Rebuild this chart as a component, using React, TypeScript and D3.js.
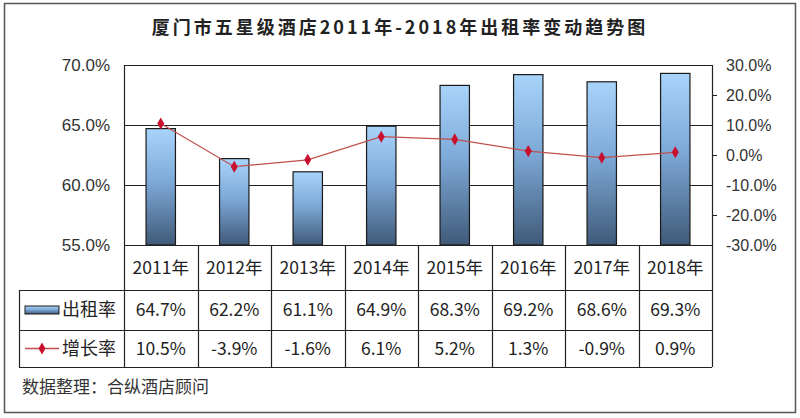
import { useEffect, useRef } from 'react';
import * as d3 from 'd3';

const years = ['2011年', '2012年', '2013年', '2014年', '2015年', '2016年', '2017年', '2018年'];
const occupancy = [64.7, 62.2, 61.1, 64.9, 68.3, 69.2, 68.6, 69.3];
const growth = [10.5, -3.9, -1.6, 6.1, 5.2, 1.3, -0.9, 0.9];
const leftTicks = [55, 60, 65, 70];
const rightTicks = [-30, -20, -10, 0, 10, 20, 30];
const rightMarks = [-20, 0, 20];

const TITLE = '厦门市五星级酒店2011年-2018年出租率变动趋势图';
const SOURCE = '数据整理：合纵酒店顾问';
const SERIES_BAR = '出租率';
const SERIES_LINE = '增长率';

const WIDTH = 800;
const HEIGHT = 418;

export default function App() {
  const svgRef = useRef<SVGSVGElement>(null);

  useEffect(() => {
    if (!svgRef.current) return;
    const svg = d3.select(svgRef.current);
    svg.selectAll('*').remove();

    const left = 124;
    const right = 712;
    const top = 65;
    const bottom = 245;
    const rowHead = 290;
    const row1 = 330;
    const row2 = 367;
    const legendLeft = 19;
    const cjk = '"Noto Sans CJK SC", "Noto Sans", sans-serif';
    const latin = '"Liberation Sans", Arial, sans-serif';
    const ink = '#222';

    const x = d3.scaleBand<string>().domain(years).range([left, right]).padding(0);
    const yL = d3.scaleLinear().domain([55, 70]).range([bottom, top]);
    const yR = d3.scaleLinear().domain([-30, 30]).range([bottom, top]);
    const cx = (i: number) => (x(years[i]) || 0) + x.bandwidth() / 2;

    // gradient for bars
    const grad = svg.append('defs')
      .append('linearGradient')
      .attr('id', 'bar-grad')
      .attr('x1', '0%').attr('y1', '0%')
      .attr('x2', '0%').attr('y2', '100%');
    grad.append('stop').attr('offset', '0%').attr('stop-color', '#a8d3fa');
    grad.append('stop').attr('offset', '45%').attr('stop-color', '#7eaad9');
    grad.append('stop').attr('offset', '100%').attr('stop-color', '#405a78');

    // outer frame
    svg.append('rect')
      .attr('x', 4.5).attr('y', 3.5)
      .attr('width', 791).attr('height', 409)
      .attr('fill', '#fff')
      .attr('stroke', '#555')
      .attr('stroke-width', 1.5);

    // title
    svg.append('text')
      .attr('x', WIDTH / 2)
      .attr('y', 34)
      .attr('text-anchor', 'middle')
      .attr('font-family', cjk)
      .attr('font-weight', 'bold')
      .attr('font-size', 18)
      .attr('letter-spacing', 3)
      .attr('fill', ink)
      .text(TITLE);

    // gridlines
    svg.append('g')
      .selectAll('line')
      .data(leftTicks.filter(t => t > 55))
      .enter()
      .append('line')
      .attr('x1', left).attr('x2', right)
      .attr('y1', d => Math.round(yL(d)) + 0.5)
      .attr('y2', d => Math.round(yL(d)) + 0.5)
      .attr('stroke', ink)
      .attr('stroke-width', 1.2);

    // bars
    const barW = x.bandwidth() * 0.4;
    svg.append('g')
      .selectAll('rect')
      .data(occupancy)
      .enter()
      .append('rect')
      .attr('x', (_d, i) => cx(i) - barW / 2)
      .attr('y', d => yL(d))
      .attr('width', barW)
      .attr('height', d => bottom - yL(d))
      .attr('fill', 'url(#bar-grad)')
      .attr('stroke', '#1a1a1a')
      .attr('stroke-width', 1.2);

    // growth line
    const line = d3.line<number>()
      .x((_d, i) => cx(i))
      .y(d => yR(d));
    svg.append('path')
      .datum(growth)
      .attr('d', line)
      .attr('fill', 'none')
      .attr('stroke', '#c0504d')
      .attr('stroke-width', 1.3);

    const diamond = d3.symbol().type(d3.symbolDiamond).size(42);
    svg.append('g')
      .selectAll('path')
      .data(growth)
      .enter()
      .append('path')
      .attr('transform', (d, i) => `translate(${cx(i)},${yR(d)})`)
      .attr('d', diamond)
      .attr('fill', '#c8102e');

    // left axis
    const axL = svg.append('g')
      .attr('transform', `translate(${left},0)`)
      .call(d3.axisLeft(yL).tickValues(leftTicks).tickSize(0).tickPadding(14)
        .tickFormat(d => (d as number).toFixed(1) + '%'));
    axL.select('.domain').remove();
    axL.selectAll('text')
      .attr('font-family', latin)
      .attr('font-size', 17)
      .attr('fill', '#333');

    // right axis
    const axR = svg.append('g')
      .attr('transform', `translate(${right},0)`)
      .call(d3.axisRight(yR).tickValues(rightTicks).tickSize(0).tickPadding(14)
        .tickFormat(d => (d as number).toFixed(1) + '%'));
    axR.select('.domain').remove();
    axR.selectAll('text')
      .attr('font-family', latin)
      .attr('font-size', 16)
      .attr('fill', '#333');

    svg.append('g')
      .selectAll('line')
      .data(rightMarks)
      .enter()
      .append('line')
      .attr('x1', right).attr('x2', right + 5)
      .attr('y1', d => Math.round(yR(d)) + 0.5)
      .attr('y2', d => Math.round(yR(d)) + 0.5)
      .attr('stroke', ink);

    // plot frame + table grid
    const grid = svg.append('g')
      .attr('stroke', ink)
      .attr('stroke-width', 1.2)
      .attr('fill', 'none');
    grid.append('line').attr('x1', left).attr('x2', right).attr('y1', top + 0.5).attr('y2', top + 0.5);
    grid.append('line').attr('x1', left).attr('x2', right).attr('y1', bottom + 0.5).attr('y2', bottom + 0.5);
    [rowHead, row1, row2].forEach(yy => {
      grid.append('line').attr('x1', legendLeft).attr('x2', right).attr('y1', yy + 0.5).attr('y2', yy + 0.5);
    });
    grid.append('line').attr('x1', left + 0.5).attr('x2', left + 0.5).attr('y1', top).attr('y2', row2);
    grid.append('line').attr('x1', right + 0.5).attr('x2', right + 0.5).attr('y1', top).attr('y2', row2);
    grid.append('line').attr('x1', legendLeft + 0.5).attr('x2', legendLeft + 0.5).attr('y1', rowHead).attr('y2', row2);
    years.slice(1).forEach(yr => {
      const xx = Math.round(x(yr) || 0) + 0.5;
      grid.append('line').attr('x1', xx).attr('x2', xx).attr('y1', bottom).attr('y2', row2);
    });

    // table texts
    const cellText = (rowY: number, values: string[], size: number) => {
      svg.append('g')
        .selectAll('text')
        .data(values)
        .enter()
        .append('text')
        .attr('x', (_d, i) => cx(i))
        .attr('y', rowY)
        .attr('dy', '0.36em')
        .attr('text-anchor', 'middle')
        .attr('font-family', cjk)
        .attr('font-size', size)
        .attr('fill', ink)
        .text(d => d);
    };
    cellText((bottom + rowHead) / 2, years, 17.5);
    cellText((rowHead + row1) / 2, occupancy.map(v => v.toFixed(1) + '%'), 17.5);
    cellText((row1 + row2) / 2, growth.map(v => v.toFixed(1) + '%'), 17.5);

    // legend keys
    const midBar = (rowHead + row1) / 2;
    const midLine = (row1 + row2) / 2;
    svg.append('rect')
      .attr('x', 25).attr('y', midBar - 4)
      .attr('width', 34).attr('height', 8)
      .attr('fill', 'url(#bar-grad)')
      .attr('stroke', '#1a1a1a');
    svg.append('line')
      .attr('x1', 25).attr('x2', 59)
      .attr('y1', midLine).attr('y2', midLine)
      .attr('stroke', '#c0504d')
      .attr('stroke-width', 1.3);
    svg.append('path')
      .attr('transform', `translate(42,${midLine})`)
      .attr('d', diamond)
      .attr('fill', '#c8102e');
    [[SERIES_BAR, midBar], [SERIES_LINE, midLine]].forEach(([label, yy]) => {
      svg.append('text')
        .attr('x', 62)
        .attr('y', yy as number)
        .attr('dy', '0.36em')
        .attr('font-family', cjk)
        .attr('font-size', 18)
        .attr('fill', ink)
        .text(label as string);
    });

    // source note
    svg.append('text')
      .attr('x', 22)
      .attr('y', 387)
      .attr('dy', '0.36em')
      .attr('font-family', cjk)
      .attr('font-size', 17)
      .attr('fill', '#333')
      .text(SOURCE);
  }, []);

  return (
    <svg
      ref={svgRef}
      width={WIDTH}
      height={HEIGHT}
      style={{ position: 'absolute', left: 0, top: 0, display: 'block' }}
    />
  );
}
